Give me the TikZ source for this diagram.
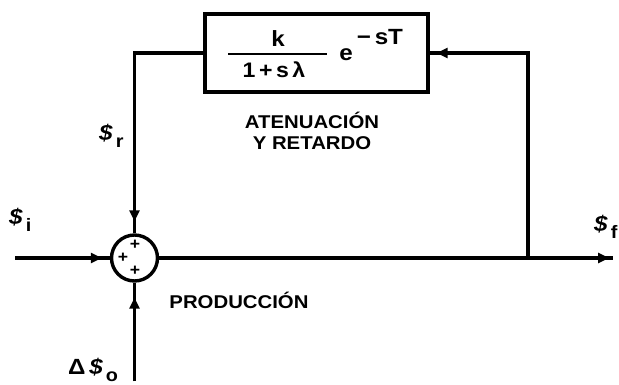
\documentclass[tikz,border=0pt]{standalone}
\usepackage{fontspec}
\setmainfont[FakeStretch=1.1]{Liberation Sans}
\usetikzlibrary{arrows.meta,calc}
\tikzset{
  wire/.style={line width=3.4pt},
  tip/.style={line width=3.4pt,-{Triangle[length=11pt,width=10pt]}},
  lbl/.style={font=\bfseries\fontsize{18.5}{22}\selectfont,inner sep=0pt,align=center},
  sig/.style={font=\bfseries\fontsize{22}{22}\selectfont,inner sep=0pt,anchor=base west},
}
\newcommand{\sigl}[1]{\textit{\$}\hspace{3pt}\raisebox{-7pt}{\fontsize{18}{18}\selectfont #1}}
\begin{document}
\begin{tikzpicture}[x=1pt,y=-1pt]
\useasboundingbox (0,0) rectangle (619,384);
% box
\node[draw,line width=3.4pt,minimum width=223pt,minimum height=78pt,inner sep=0pt] (box) at (316.5,53) {};
\node[lbl,font=\bfseries\fontsize{22}{22}\selectfont] (k) at (278,39) {k};
\node[lbl,font=\bfseries\fontsize{21}{22}\selectfont] (den) at (274,70) {1\,+\,s\,λ};
\draw[line width=2pt] (228,54) coordinate (fl) -- (327,54) coordinate (fr);
\node[lbl,font=\bfseries\fontsize{22}{22}\selectfont] (e) at (346,55) {e};
\node[lbl,font=\bfseries\fontsize{22}{22}\selectfont] (ex) at (380,37) {−\,sT};
% summing junction
\node[draw,circle,line width=3.4pt,minimum size=46pt,inner sep=0pt] (sum) at (134.5,258) {};
\node[font=\bfseries\fontsize{16}{16}\selectfont,inner sep=0pt] (p1) at (135,245) {+};
\node[font=\bfseries\fontsize{16}{16}\selectfont,inner sep=0pt] (p2) at (123,258) {+};
\node[font=\bfseries\fontsize{16}{16}\selectfont,inner sep=0pt] (p3) at (135,271) {+};
% coordinates
\coordinate (in) at (15,258);
\coordinate (out) at (613,258);
\coordinate (br) at (528,258);
\coordinate (brt) at (528,53);
\coordinate (fbl) at (134.5,53);
\coordinate (dn) at (134.5,381);
% connectors
\draw[wire] (in) -- (sum.west);
\draw[tip] (in) -- ($(sum.west)+(-8,0)$);
\draw[wire] (sum.east) -- (out);
\draw[tip] (sum.east) -- ($(out)+(-4,0)$);
\draw[wire] (br) -- (brt) -- (box.east);
\draw[tip] (brt) -- ($(box.east)+(7,0)$);
\draw[wire] (box.west) -- (fbl) -- (sum.north);
\draw[tip] (fbl) -- ($(sum.north)+(0,-12)$);
\draw[wire] (dn) -- (sum.south);
\draw[tip] (dn) -- ($(sum.south)+(0,15)$);
% labels
\node[lbl] (at1) at (312,120) {ATENUACIÓN};
\node[lbl] (at2) at (312,143) {Y RETARDO};
\node[lbl] (prod) at (239,300) {PRODUCCIÓN};
\node[sig] (si) at (9,224) {\sigl{i}};
\node[sig] (sr) at (99,140) {\sigl{r}};
\node[sig] (sf) at (594,231) {\sigl{f}};
\node[sig] (so) at (68,374) {Δ\,\sigl{o}};
\end{tikzpicture}
\end{document}
